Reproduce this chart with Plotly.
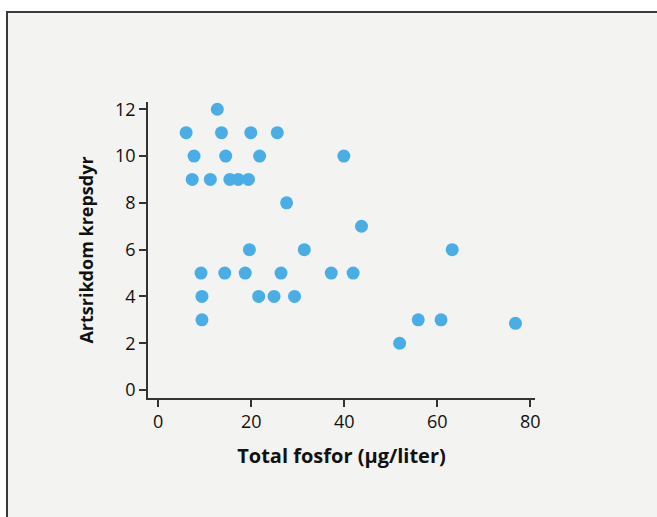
import plotly.graph_objects as go

# Data
total_fosfor = [12.7, 6.0, 13.6, 19.9, 25.6, 7.7, 14.5, 21.8, 39.9,
                7.3, 11.2, 15.4, 17.2, 19.4, 27.6, 43.7,
                19.6, 31.4, 63.2,
                9.2, 14.3, 18.7, 26.4, 37.2, 41.9,
                9.4, 21.6, 24.9, 29.3,
                9.4, 55.9, 60.8, 76.8,
                51.9]
artsrikdom = [12, 11, 11, 11, 11, 10, 10, 10, 10,
              9, 9, 9, 9, 9, 8, 7,
              6, 6, 6,
              5, 5, 5, 5, 5, 5,
              4, 4, 4, 4,
              3, 3, 3, 2.85,
              2]
x_ticks = [0, 20, 40, 60, 80]
y_ticks = [0, 2, 4, 6, 8, 10, 12]

W, H = 657, 517
ML, MR, MT, MB = 148, 122, 102, 119
x_range = [-2.2, 81.0]
y_range = [-0.34, 12.31]

fig = go.Figure()
fig.add_trace(go.Scatter(
    x=total_fosfor, y=artsrikdom, mode="markers",
    marker=dict(size=13, color="#4aaee6", line=dict(width=0)),
    hoverinfo="x+y", showlegend=False,
))

pw = W - ML - MR
ph = H - MT - MB
# outer frame (page border)
fig.add_shape(type="rect", xref="paper", yref="paper",
              x0=(7 - ML) / pw, x1=(W + 5 - ML) / pw,
              y0=(H - MB - (H + 5)) / ph, y1=(H - MB - 12) / ph,
              line=dict(color="#3a3a3a", width=2), fillcolor="#f3f3f1",
              layer="below")

fig.update_layout(
    width=W, height=H,
    margin=dict(l=ML, r=MR, t=MT, b=MB, autoexpand=False),
    paper_bgcolor="#ffffff", plot_bgcolor="rgba(0,0,0,0)",
    font=dict(family="Open Sans", color="#1a1a1a", size=17),
    xaxis=dict(
        range=x_range, tickvals=x_ticks, showgrid=False, zeroline=False,
        showline=True, linecolor="#333333", linewidth=1.5,
        ticks="outside", ticklen=7, tickwidth=1.5, tickcolor="#333333",
        tickfont=dict(size=18, family="Open Sans", color="#111111"),
        title=dict(text="<b>Total fosfor (μg/liter)</b>", standoff=17,
                   font=dict(size=20, family="Open Sans", color="#111111")),
        automargin=False,
    ),
    yaxis=dict(
        range=y_range, tickvals=y_ticks, showgrid=False, zeroline=False,
        showline=True, linecolor="#333333", linewidth=1.5,
        ticks="outside", ticklen=7, tickwidth=1.5, tickcolor="#333333",
        tickfont=dict(size=18, family="Open Sans", color="#111111"),
        title=dict(text="<b>Artsrikdom krepsdyr</b>", standoff=17,
                   font=dict(size=18, family="Open Sans", color="#111111")),
        automargin=False,
    ),
)

fig.write_html("out.html", config={"displayModeBar": False},
               post_script="document.body.style.margin='0';document.body.style.overflow='hidden';")
